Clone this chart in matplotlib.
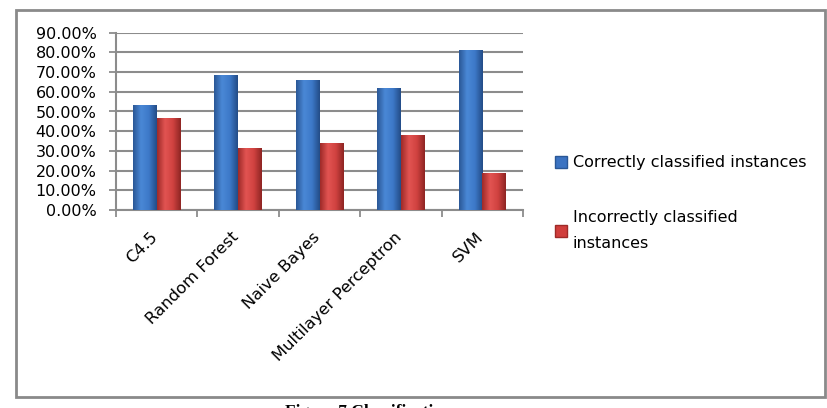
import matplotlib
matplotlib.use("Agg")
import matplotlib.pyplot as plt
import matplotlib.transforms as mtransforms
import numpy as np
from matplotlib.colors import LinearSegmentedColormap
from matplotlib.patches import Rectangle

categories = ["C4.5", "Random Forest", "Naive Bayes", "Multilayer Perceptron", "SVM"]
correct = [0.531, 0.683, 0.658, 0.618, 0.811]
incorrect = [0.469, 0.317, 0.342, 0.382, 0.189]
series_names = ["Correctly classified instances", "Incorrectly classified\ninstances"]
yticks = [0.0, 0.1, 0.2, 0.3, 0.4, 0.5, 0.6, 0.7, 0.8, 0.9]
caption = "Figure 7 Classification"

plt.rcParams['font.family'] = ['DejaVu Sans']

W, H = 828, 408
fig = plt.figure(figsize=(W / 100, H / 100), dpi=100)
ax = fig.add_axes([116 / W, 198 / H, 407 / W, 177.3 / H])

x = np.arange(len(categories))
bw = 0.29
blue = "#3B73C2"
red = "#D03E3C"
b1 = ax.bar(x - bw / 2, correct, bw, color=blue, zorder=3, label=series_names[0])
b2 = ax.bar(x + bw / 2, incorrect, bw, color=red, zorder=3, label=series_names[1])

cmap_b = LinearSegmentedColormap.from_list("b", ["#2A5796", "#4A88D6", "#3D79C8", "#234C87"])
cmap_r = LinearSegmentedColormap.from_list("r", ["#9E2A28", "#E25452", "#D04240", "#8E2523"])
grad = np.linspace(0, 1, 64).reshape(1, -1)
for bars, cm in ((b1, cmap_b), (b2, cmap_r)):
    for p in bars:
        x0, y0 = p.get_x(), p.get_y()
        w, h = p.get_width(), p.get_height()
        im = ax.imshow(grad, cmap=cm, aspect="auto", extent=(x0, x0 + w, y0, y0 + h),
                       zorder=3.5, interpolation="bicubic")
        im.set_clip_path(p)

ax.set_xlim(-0.5, len(categories) - 0.5)
ax.set_ylim(0, 0.9)
ax.set_yticks(yticks)
ax.set_yticklabels([f"{v * 100:.2f}%" for v in yticks], fontsize=11.5)
ax.yaxis.grid(True, color="#8C8C8C", linewidth=1.5, zorder=0)
ax.set_axisbelow(True)

ax.set_xticks(x)
ax.set_xticklabels(categories, rotation=45, ha="right", rotation_mode="anchor", fontsize=11.8)
ax.tick_params(axis="x", length=0, pad=14)
shift = mtransforms.ScaledTranslation(-5 / 72, 0, fig.dpi_scale_trans)
for lbl in ax.get_xticklabels():
    lbl.set_transform(lbl.get_transform() + shift)
ax.set_xticks(np.arange(-0.5, len(categories)), minor=True)
ax.tick_params(axis="x", which="minor", length=5, color="#8C8C8C", width=1.3)
ax.tick_params(axis="y", length=5, color="#8C8C8C", width=1.3, pad=9)

for s in ["top", "right"]:
    ax.spines[s].set_visible(False)
for s in ["left", "bottom"]:
    ax.spines[s].set_color("#8C8C8C")
    ax.spines[s].set_linewidth(1.5)

handles = [Rectangle((0, 0), 1, 1, facecolor=blue, edgecolor="#2A5796"),
           Rectangle((0, 0), 1, 1, facecolor=red, edgecolor="#9E2A28")]
leg = fig.legend(handles, series_names, loc="upper left", bbox_to_anchor=(541 / W, 1 - 141 / H),
                 frameon=False, fontsize=11.5, handlelength=0.75, handleheight=0.75,
                 handletextpad=0.35, labelspacing=2.5)
for t in leg.get_texts():
    t.set_linespacing(1.9)

border = Rectangle((16 / W, 11 / H), 809 / W, 387 / H, transform=fig.transFigure,
                   fill=False, edgecolor="#8A8A8A", linewidth=2)
fig.add_artist(border)

fig.text(285 / W, 1 - 404 / H, caption, ha="left", va="top", fontsize=12.5,
         family=["Liberation Serif"], weight="bold")

fig.savefig("out.png", dpi=100)
